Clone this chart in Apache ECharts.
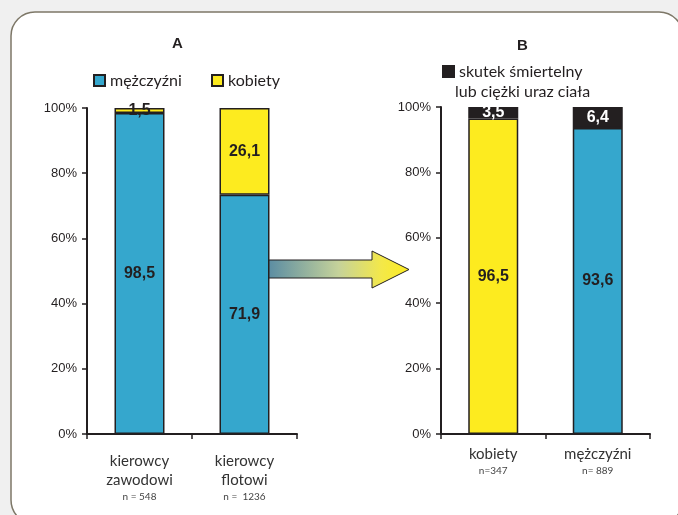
<!DOCTYPE html>
<html>
<head>
<meta charset="utf-8">
<script src="https://cdn.jsdelivr.net/npm/echarts@6/dist/echarts.min.js"></script>
<style>html,body{margin:0;padding:0;background:#f0f0f0;}#c{width:678px;height:515px;}</style>
</head>
<body>
<div id="c"></div>
<script>
// Panel A
const categoriesA = ['kierowcy\nzawodowi', 'kierowcy\nflotowi'];
const samplesA = ['n = 548', 'n =  1236'];
const menA = [98.5, 71.9];
const womenA = [1.5, 26.1];
// Panel B
const categoriesB = ['kobiety', 'mężczyźni'];
const samplesB = ['n=347', 'n= 889'];
const otherB = [96.5, 93.6];
const severeB = [3.5, 6.4];
const legendA = ['mężczyźni', 'kobiety'];
const legendB = ['skutek śmiertelny', 'lub ciężki uraz ciała'];

const BLUE = '#35a7cd', YELLOW = '#fdeb1f', BLACK = '#231f20';
const fmt = v => v.toFixed(1).replace('.', ',');
const share = (arr, i, a, b) => arr[i] / (a[i] + b[i]) * 100;

const chart = echarts.init(document.getElementById('c'));
const labelFont = {fontFamily: 'Liberation Sans', fontWeight: 'bold', fontSize: 16};
const yAxisBase = (gi) => ({
  gridIndex: gi, type: 'value', min: 0, max: 100, interval: 20,
  axisLine: {show: true, lineStyle: {color: BLACK, width: 2}},
  axisTick: {show: true, length: 5, lineStyle: {color: BLACK, width: 1.5}},
  splitLine: {show: false},
  axisLabel: {formatter: '{value}%', fontFamily: 'Liberation Sans', fontSize: 13, color: BLACK, margin: 10}
});
const xAxisBase = (gi, cats, samples, margin) => ({
  gridIndex: gi, type: 'category', data: cats,
  axisLine: {show: true, lineStyle: {color: BLACK, width: 2}},
  axisTick: {show: true, length: 5, lineStyle: {color: BLACK, width: 1.5}},
  axisLabel: {
    margin: margin, interval: 0,
    formatter: (v, i) => v.split('\n').map(s => '{m|' + s + '}').join('\n') + '\n{n|' + samples[i] + '}',
    rich: {
      m: {fontFamily: 'Lato', fontSize: 15, lineHeight: 19, color: '#333'},
      n: {fontFamily: 'Lato', fontSize: 10, lineHeight: 14, color: '#444'}
    }
  }
});
const barStyle = c => ({color: c, borderColor: BLACK, borderWidth: 1.5});
const legendText = {fontFamily: 'Lato', fontSize: 16, color: BLACK, lineHeight: 16};

chart.setOption({
  backgroundColor: '#f0f0f0',
  animation: false,
  title: [
    {text: 'A', left: 172, top: 36, padding: 0, textStyle: {fontFamily: 'Liberation Sans', fontWeight: 'bold', fontSize: 15, color: BLACK, lineHeight: 16}},
    {text: 'B', left: 517, top: 38, padding: 0, textStyle: {fontFamily: 'Liberation Sans', fontWeight: 'bold', fontSize: 15, color: BLACK, lineHeight: 16}},
    {text: legendB[1], left: 455, top: 83, padding: 0, textStyle: {fontFamily: 'Lato', fontWeight: 'normal', fontSize: 16, color: BLACK, lineHeight: 18}}
  ],
  legend: [
    {data: [legendA[0]], left: 93, top: 72.5, padding: 0, icon: 'rect', itemWidth: 11, itemHeight: 11, itemGap: 0, selectedMode: false, textStyle: legendText},
    {data: [legendA[1]], left: 211, top: 72.5, padding: 0, icon: 'rect', itemWidth: 11, itemHeight: 11, itemGap: 0, selectedMode: false, textStyle: legendText},
    {data: [legendB[0]], left: 442, top: 63.5, padding: 0, icon: 'rect', itemWidth: 11, itemHeight: 11, itemGap: 0, selectedMode: false, textStyle: legendText}
  ],
  grid: [
    {left: 87, right: 381, top: 108, bottom: 81},
    {left: 441, right: 28, top: 107, bottom: 81}
  ],
  xAxis: [xAxisBase(0, categoriesA, samplesA, 18), xAxisBase(1, categoriesB, samplesB, 11)],
  yAxis: [yAxisBase(0), yAxisBase(1)],
  graphic: [
    {type: 'rect', z: -10, silent: true, shape: {x: 11, y: 12, width: 672, height: 512, r: 24},
     style: {fill: '#ffffff', stroke: '#7d7767', lineWidth: 1.5}},
    {type: 'polygon', z: 1, silent: true,
     shape: {points: [[268, 260], [372, 260], [372, 251], [409, 269.5], [372, 288], [372, 278], [268, 278]]},
     style: {
       fill: new echarts.graphic.LinearGradient(0, 0, 1, 0, [
         {offset: 0, color: '#5a8ca3'}, {offset: 0.5, color: '#c5d29a'}, {offset: 0.8, color: '#f3e84a'}, {offset: 1, color: '#fdec21'}
       ]),
       stroke: BLACK, lineWidth: 1
     }}
  ],
  series: [
    {name: legendA[0], type: 'bar', stack: 'A', xAxisIndex: 0, yAxisIndex: 0, barWidth: 50,
     itemStyle: barStyle(BLUE),
     data: menA.map((v, i) => ({value: share(menA, i, menA, womenA), raw: v})),
     label: {show: true, position: 'inside', color: BLACK, ...labelFont, formatter: p => fmt(p.data.raw)}},
    {name: legendA[1], type: 'bar', stack: 'A', xAxisIndex: 0, yAxisIndex: 0, barWidth: 50,
     itemStyle: barStyle(YELLOW),
     data: womenA.map((v, i) => ({value: share(womenA, i, menA, womenA), raw: v})),
     label: {show: true, position: 'inside', color: BLACK, ...labelFont, formatter: p => fmt(p.data.raw)}},
    {name: 'pozostałe', type: 'bar', stack: 'B', xAxisIndex: 1, yAxisIndex: 1, barWidth: 50,
     itemStyle: barStyle(BLUE),
     data: otherB.map((v, i) => ({value: v, raw: v, itemStyle: {color: i === 0 ? YELLOW : BLUE}})),
     label: {show: true, position: 'inside', color: BLACK, ...labelFont, formatter: p => fmt(p.data.raw)}},
    {name: legendB[0], type: 'bar', stack: 'B', xAxisIndex: 1, yAxisIndex: 1, barWidth: 50,
     itemStyle: barStyle(BLACK),
     data: severeB.map(v => ({value: v, raw: v})),
     label: {show: true, position: 'inside', color: '#ffffff', ...labelFont, formatter: p => fmt(p.data.raw)}}
  ]
});
</script>
</body>
</html>
